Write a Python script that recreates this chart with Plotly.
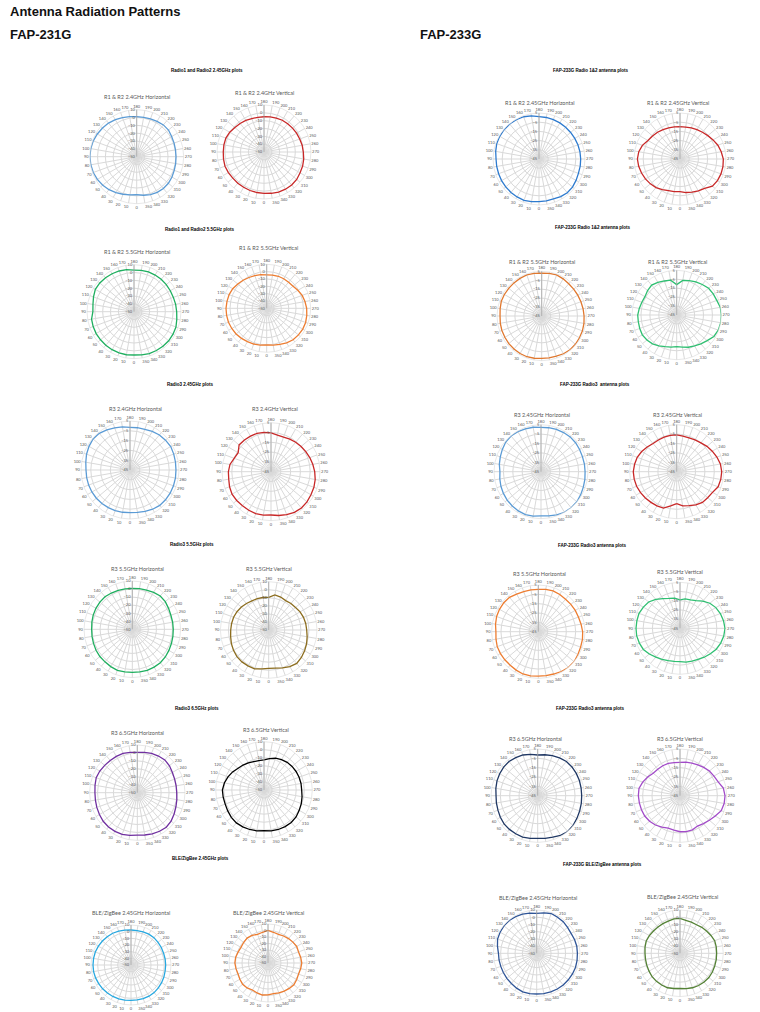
import plotly.graph_objects as go

W, H = 760, 1012

angles = [0, 10, 20, 30, 40, 50, 60, 70, 80, 90, 100, 110, 120, 130, 140, 150, 160, 170,
          180, 190, 200, 210, 220, 230, 240, 250, 260, 270, 280, 290, 300, 310, 320, 330, 340, 350]
angle_labels = ["0", "10", "20", "30", "40", "50", "60", "70", "80", "90", "100", "110", "120",
                "130", "140", "150", "160", "170", "180", "190", "200", "210", "220", "230", "240",
                "250", "260", "270", "280", "290", "300", "310", "320", "330", "340", "350"]

# ---------------- FAP-231G (dB per 10 degrees, 0..350) ----------------
l1_h = [-1.5, -0.5, 1, 3, 5, 6.5, 8, 9, 9.5, 9.8, 9.5, 9, 8, 7, 6, 4.5, 3, 2,
        1.1, 1, 1.5, 2, 3, 3, 1.5, 0.8, 0.3, 0.2, 0.5, 1, 2, 2.8, 3, 2.5, 1.5, 0]
l1_v = [2.8, 2.5, 2.3, 2, 2, 2, 2.5, 3, 2.5, 2, 2, 1.8, 0.5, -1.5, -2.5, -3.5, -4.5, -5,
        -5, -4.5, -4, -3.2, -3, -2.5, -2, -1.5, -0.5, 0.2, 1.5, 2.5, 3.2, 4.5, 5, 4.8, 4.5, 3.5]
l2_h = [5.3, 5.8, 6, 6, 6, 5.8, 5.8, 5.5, 5, 2.5, 3.2, 5, 7, 7, 6.5, 6, 5.3, 4.5,
        3.2, 3.5, 4, 4, 4, 3.8, 3.5, 3.5, 4, 4.5, 5.5, 7, 7.5, 7.8, 7.5, 7.2, 7, 6]
l2_v = [0, 1, 1.8, 2.5, 3.5, 4.5, 5, 5.5, 5.5, 5.5, 5, 4.5, 3.5, 1.5, 0, -1.5, -2.5, -3.5,
        -4.5, -4, -3.5, -3.5, -3.5, -3, -1, 1.5, 3, 4.5, 5.5, 6.5, 6.8, 6.5, 6, 4.5, 2.5, 1]
l3_h = [-1.5, -1.2, -0.8, -0.7, -0.4, -0.2, -0.1, -0.1, -0.1, -0.1, 0.8, 2.2, 3.3, 4.2, 3.8, 2.2, 0.8, -0.4,
        -1.5, -1.2, -0.8, 0.4, 1.7, 2.3, 3, 2.5, 2.1, 1.9, 2.1, 2.2, 2.3, 2.3, 2.2, 1.2, 0, -1]
l3_v = [-0.8, 0, 0.6, 0.4, 0.25, 0.7, 0.9, 0, -1.2, -1.5, -2.5, -5, -6.3, -2.5, -2.8, -3.1, -3.3, -4.2,
        -5.3, -7.1, -7.5, -6.6, -5.8, -4.9, -4, -2.9, -1.7, -0.4, 0.8, 1.6, 2.1, 2.9, 3.3, 2.9, 1.6, 0.4]
l4_h = [3.4, 3.8, 4.2, 3.5, 2.8, 2.6, 2, 1.3, 0.8, 0.5, 1, 1.7, 2.2, 2.6, 2.8, 2, 1.3, 1,
        0.9, 1.2, 1.7, 3, 4, 3.5, 2, 1, 0.9, 0.9, 1.2, 1.7, 2.5, 3.5, 4.2, 4.2, 4.2, 3.8]
l4_v = [-2.4, -1, 1.3, 1.5, 1.7, 1.5, 0.5, -0.7, -2, -2.8, -3.2, -3.6, -4.5, -5.7, -7, -8.2, -8.5, -9,
        -9.5, -5.7, -6.5, -7.8, -7, -6.5, -5, -4, -3.3, -2.8, -1.5, 0.1, 1.5, 3, 4.2, 2.5, 0, -2]
l5_h = [3.3, 4.5, 5.9, 6.2, 6.3, 6, 5, 4.2, 3.5, 3.3, 4, 5, 4.5, 3.5, 3, 2.8, 2.5, 1.5,
        0.8, 1.5, 2.5, 3.2, 3.8, 2.8, 1, 0, -0.4, -0.4, 0.5, 1.7, 3.5, 5.5, 6.7, 6, 5, 4]
l5_v = [0.5, 1.5, 2.2, 2.8, 3.4, 3, 2, 1.3, 1.5, 1.7, 0, -2.4, -5, -8, -9.5, -11, -12.5, -13,
        -12.7, -10.3, -8, -6.5, -5.2, -4.5, -4, -3.6, -3.3, -3.2, -2, -0.7, 0.5, 2, 2.6, 2.5, 2.2, 1.5]
l6_h = [3, 3.5, 4, 4.5, 5, 5.5, 6, 6.5, 7, 7, 7, 7, 6.5, 6, 5.5, 5, 4, 3,
        2.5, 2.5, 3, 3.5, 3.5, 3, 2.5, 2, 2, 2, 2, 2.5, 3, 3.5, 4, 4, 3.5, 3]
l6_v = [-1, 0, -1, -2, 0, 1, 0, -1, 0, 1, 0.5, -1, -2, -1, 0, -1, -3, -2,
        0, -2, -3, -2, -1, 0, 1, 0, 1, 2, 1, 0, 1, 2, 1, 0, -1, -2]

# ---------------- FAP-233G ----------------
r1_h = [1.4, 2, 2.8, 2.6, 2.4, 2.2, 2, 1.7, 1.7, 1.7, 2.8, 3.9, 4.3, 4.6, 4.6, 4.3, 3.9, 2.5,
        1, 0.8, 0.6, 0.3, 0, -0.1, -0.1, 0, 0.2, 0.3, 0.5, 0.6, 1.5, 2.5, 2.8, 2.2, 1, 1.2]
r1_v = [-9.5, -9, -8.4, -6.5, -4.5, -3, -1.6, -0.5, 0.6, 1.3, 0.5, -1.5, -4.8, -6, -7, -8.1, -9, -9.5,
        -9.9, -9.9, -9, -8.1, -7, -5.5, -3.5, -1.2, 0.5, 2.1, 2.4, 2.4, 2, 1, -3.4, -5, -6.6, -8]
r2_h = [2.4, 3, 3.5, 3.4, 3.2, 3, 2.6, 2.4, 2, 1.6, 2.2, 3.1, 3.2, 3.2, 3.3, 3.6, 3.9, 3.5,
        2.8, 3.5, 3.9, 3, 2, 1.7, 1.6, 1.7, 2, 2.4, 3, 3.5, 3.8, 4.2, 4.3, 3.8, 2.8, 2.5]
r2_v = [-9.6, -8.5, -7.3, -5, -2.9, -1.5, -0.6, -1, -1.4, -1.4, -2.5, -3.5, -4, -2.5, -1.4, -2.8, -4.5, -5.5,
        -11, -5.8, -4, -2.1, -0.5, 1.6, 2.2, 2.7, 4.5, 5, 5, 4.5, 3, -0.5, -2.9, -5, -6.6, -8.5]
r3_h = [1.9, 3, 3.6, 3.2, 2.6, 2, 1.2, 0.4, -0.5, -1.3, 0, 1.1, 2.5, 4, 4.6, 4.2, 3.6, 3,
        2.2, 2.5, 2.9, 3.1, 3.3, 3, 2.4, 1.9, 1.9, 1.9, 2.4, 2.9, 3.8, 4.8, 5, 4.8, 4, 2.8]
r3_v = [-11, -8.1, -3.8, -3, -2.4, -1.5, -0.6, 0.4, 0.9, 1.2, 0.5, -0.3, -2, -4, -5.9, -6, -5.9, -5.8,
        -5.9, -6.5, -6.7, -6, -4.9, -3, -1.3, 0.5, 2.2, 2.9, 2.6, 1.9, -1, -2, -2.4, -4.2, -6.5, -8.1]
r4_h = [2.5, 3, 3.2, 2.5, 1.8, 1.8, 1.8, 1.8, 1, 0.4, 1.5, 2.5, 3, 3.2, 3, 1.5, 0.7, 0.5,
        0.4, 1, 1.4, 1, 0.4, 0.5, 0.7, 0.7, 1.5, 2.5, 3, 3.2, 4, 5, 5, 4.2, 3.2, 2.8]
r4_v = [-8.8, -8.5, -7.7, -6, -4.1, -1.5, 1, 2, 2.8, 2.8, 2.6, 2.4, 1, -0.5, -4, -7.7, -10.5, -11.7,
        -14, -12.5, -12, -10.2, -6.5, -2.6, 0, 1.7, 3, 3.9, 3.3, 2.1, 0.5, -1.9, -4, -5.9, -7, -7.7]
r5_h = [0.7, 1.5, 2.1, 2.1, 2.1, 2, 1.2, 0.3, -0.1, -0.4, 0.5, 1.4, 2, 2.6, 2.8, 2, 1.4, 0,
        -1.4, -0.5, 0.7, 1.8, 2.8, 2.9, 2.7, 2.5, 2.2, 2.1, 2.4, 2.8, 3.5, 4.5, 5, 4, 2.1, 1.3]
r5_v = [-6.4, -7.5, -8, -6.1, -4, -2.5, -1.4, -1.1, -0.8, -0.4, -0.4, -2.5, -5, -7.5, -7.9, -8, -8.2, -9,
        -9.3, -8.6, -7.8, -6.8, -5.5, -3.9, -3, -1.5, 2.1, 3.2, 3, 2, -1.4, -4, -6, -7.5, -6.1, -6]
r6_h = [6.4, 6.6, 6.9, 5.8, 4.6, 4, 3.4, 3, 3, 3, 5.2, 7.7, 8.6, 9.2, 9.2, 8.6, 7.7, 6.4,
        5.4, 7, 8.7, 7.8, 7.2, 5.8, 5, 5.8, 6.4, 6.4, 6.8, 7.2, 7.2, 7.2, 7.2, 7.1, 6.9, 6.6]
r6_v = [-1.5, -0.5, 0.8, 0.8, 0.8, 0.5, -0.5, -1.1, -1.5, -1.5, -0.8, -0.2, -1, -2, -2.5, -2.5, -2.5, -1.5,
        -1.5, -3.8, -4, -4.3, -3, -2, -0.5, 1.2, 1, 0.8, 1, 1.2, 1.8, 2.2, 2, 1.5, 0.8, -0.3]

# ---------------- chart layout (pixel centres / radii) ----------------
charts = [
    # values, colour, cx, cy, R, rmin, rmax, title, title x, title y
    (l1_h, "#5B9BD5", 136.7, 156.7, 47, -50, 10, "R1 & R2 2.4GHz Horizontal", 137, 96.7),
    (l1_v, "#C82828", 264, 152, 47, -50, 10, "R1 & R2 2.4GHz Vertical", 264, 93),
    (l2_h, "#1FAF5F", 134, 311.7, 47, -50, 10, "R1 & R2 5.5GHz Horizontal", 137, 252),
    (l2_v, "#ED7D31", 266.7, 308.3, 44, -50, 10, "R1 & R2 5.5GHz Vertical", 268, 248),
    (l3_h, "#5B9BD5", 130, 470, 49, -45, 5, "R3 2.4GHz Horizontal", 135, 409),
    (l3_v, "#C82828", 271, 471.7, 49, -45, 5, "R3 2.4GHz Vertical", 275, 409),
    (l4_h, "#1FAF5F", 132.3, 629.3, 48.3, -50, 10, "R3 5.5GHz Horizontal", 137, 569),
    (l4_v, "#8C6D1F", 268.7, 630, 48.3, -50, 10, "R3 5.5GHz Vertical", 269, 569),
    (l5_h, "#7030A0", 137.3, 792.7, 47.7, -50, 10, "R3 6.5GHz Horizontal", 137, 733),
    (l5_v, "#000000", 264, 790, 48.3, -50, 10, "R3 6.5GHz Vertical", 266, 730),
    (l6_h, "#27A8E0", 131, 965, 40, -50, 10, "BLE/ZigBee 2.45GHz Horizontal", 131, 913),
    (l6_v, "#ED7D31", 268, 963, 39, -50, 10, "BLE/ZigBee 2.45GHz Vertical", 268, 913),
    (r1_h, "#2E7BCF", 539, 159, 46, -45, 5, "R1 & R2 2.45GHz Horizontal", 539, 103),
    (r1_v, "#C82828", 680, 159, 46, -45, 5, "R1 & R2 2.45GHz Vertical", 678, 103),
    (r2_h, "#E0782F", 541.7, 316, 44.7, -45, 5, "R1 & R2 5.5GHz Horizontal", 542, 262),
    (r2_v, "#2FBF71", 676.7, 315, 44.7, -45, 5, "R1 & R2 5.5GHz Vertical", 677, 262),
    (r3_h, "#5B9BD5", 541, 471.7, 47, -45, 5, "R3 2.45GHz Horizontal", 542, 415),
    (r3_v, "#C82828", 676.7, 471.7, 47, -45, 5, "R3 2.45GHz Vertical", 677, 415),
    (r4_h, "#ED7D31", 538.3, 631.7, 46.7, -45, 5, "R3 5.5GHz Horizontal", 539, 574),
    (r4_v, "#2FBF71", 680, 628.3, 46, -45, 5, "R3 5.5GHz Vertical", 680, 572),
    (r5_h, "#203864", 537.7, 795.7, 46.7, -45, 5, "R3 6.5GHz Horizontal", 535, 739),
    (r5_v, "#A24BC9", 680, 795.7, 46.7, -45, 5, "R3 6.5GHz Vertical", 680, 739),
    (r6_h, "#2F5597", 536.7, 953.3, 43.3, -50, 10, "BLE/ZigBee 2.45GHz Horizontal", 538, 898),
    (r6_v, "#548235", 680, 953.3, 43.3, -50, 10, "BLE/ZigBee 2.45GHz Vertical", 682, 897),
]

section_titles = [
    ("Radio1 and Radio2 2.45GHz plots", 207, 70),
    ("Radio1 and Radio2 5.5GHz plots", 200, 229),
    ("Radio3 2.45GHz plots", 190, 384),
    ("Radio3 5.5GHz plots", 192, 544),
    ("Radio3 6.5GHz plots", 197, 708),
    ("BLE/ZigBee 2.45GHz plots", 200, 858),
    ("FAP-233G Radio 1&2 antenna plots", 591, 70),
    ("FAP-233G Radio 1&2 antenna plots", 593, 227),
    ("FAP-233G Radio3  antenna plots", 595, 384),
    ("FAP-233G Radio3 antenna plots", 592, 545),
    ("FAP-233G Radio3 antenna plots", 590, 708),
    ("FAP-233G BLE/ZigBee antenna plots", 602, 864),
]

GRID = "#D9D9D9"
TXT = "#595959"
FONT = "Lato"

fig = go.Figure()
annotations = []
layout_polars = {}

for i, (vals, col, cx, cy, R, rmin, rmax, title, tx, ty) in enumerate(charts):
    key = "polar" if i == 0 else f"polar{i + 1}"
    fig.add_trace(go.Scatterpolar(
        r=vals + [vals[0]], theta=angles + [angles[0]], mode="lines",
        line=dict(color=col, width=1.3), subplot=key, showlegend=False, hoverinfo="skip"))
    layout_polars[key] = dict(
        domain=dict(x=[(cx - R) / W, (cx + R) / W], y=[1 - (cy + R) / H, 1 - (cy - R) / H]),
        bgcolor="white",
        angularaxis=dict(rotation=270, direction="clockwise", tickmode="array",
                         tickvals=angles, ticktext=angle_labels,
                         tickfont=dict(size=4, color=TXT, family=FONT),
                         showgrid=True, gridcolor=GRID, gridwidth=0.6,
                         showline=True, linecolor=GRID, linewidth=0.6, ticks=""),
        radialaxis=dict(range=[rmin, rmax], tickmode="array",
                        tickvals=list(range(rmin, rmax + 1, 10)),
                        angle=90, tickangle=90, side="counterclockwise",
                        tickfont=dict(size=4, color=TXT, family=FONT),
                        showgrid=True, gridcolor=GRID, gridwidth=0.6,
                        showline=True, linecolor="#A6A6A6", linewidth=0.8, ticks=""),
    )
    annotations.append(dict(text=title, x=tx / W, y=1 - ty / H, xref="paper", yref="paper",
                            xanchor="center", yanchor="middle", showarrow=False,
                            font=dict(size=5.5, color=TXT, family=FONT)))

for text, sx, sy in section_titles:
    annotations.append(dict(text=f"<b>{text}</b>", x=sx / W, y=1 - sy / H, xref="paper", yref="paper",
                            xanchor="center", yanchor="middle", showarrow=False,
                            font=dict(size=4.5, color="#000000", family="Liberation Sans")))

annotations.append(dict(text="<b>Antenna Radiation Patterns</b>", x=8 / W, y=1 - 11 / H,
                        xref="paper", yref="paper", xanchor="left", yanchor="middle", showarrow=False,
                        font=dict(size=13, color="#111111", family="Liberation Sans")))
annotations.append(dict(text="<b>FAP-231G</b>", x=8 / W, y=1 - 34 / H,
                        xref="paper", yref="paper", xanchor="left", yanchor="middle", showarrow=False,
                        font=dict(size=13, color="#111111", family="Liberation Sans")))
annotations.append(dict(text="<b>FAP-233G</b>", x=418 / W, y=1 - 34 / H,
                        xref="paper", yref="paper", xanchor="left", yanchor="middle", showarrow=False,
                        font=dict(size=13, color="#111111", family="Liberation Sans")))

fig.update_layout(width=W, height=H, margin=dict(l=0, r=0, t=0, b=0),
                  paper_bgcolor="white", plot_bgcolor="white", template="none",
                  annotations=annotations, **layout_polars)

fig.write_html("out.html")
